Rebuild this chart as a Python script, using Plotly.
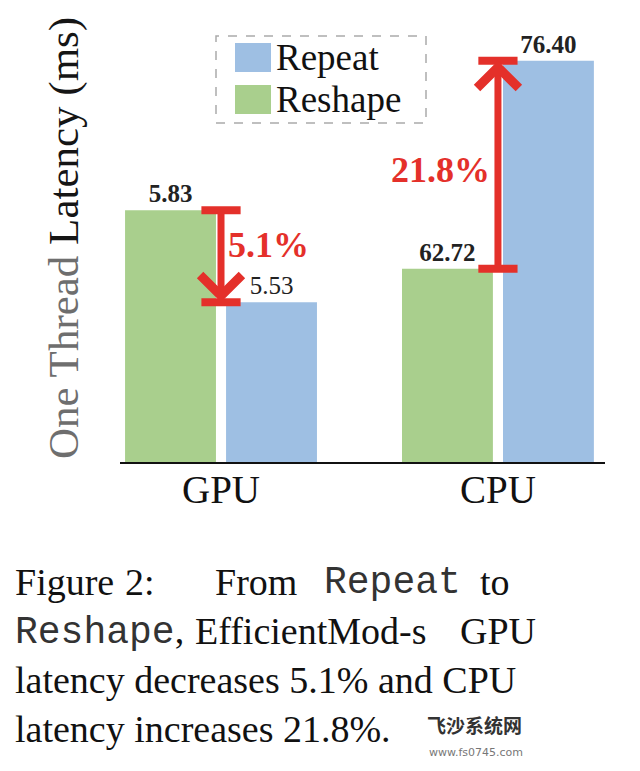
import plotly.graph_objects as go

# ---------------- data ----------------
categories = ["GPU", "CPU"]
repeat_ms = [5.53, 76.40]
reshape_ms = [5.83, 62.72]
change_labels = ["5.1%", "21.8%"]
series_names = ["Repeat", "Reshape"]

# ---------------- style ----------------
W, H = 640, 771
GREEN = "#A9CF8D"
BLUE = "#9EBFE3"
RED = "#E4302A"
SERIF = "Liberation Serif"
MONO = "Liberation Mono"

def fx(p):
    return p / W

def fy(p):
    return 1 - p / H

PLOT_TOP, PLOT_BOTTOM = 20, 462
y_ranges = [[5.01, 5.01 + (PLOT_BOTTOM - PLOT_TOP) / 307.0],
            [50.0, 50.0 + (PLOT_BOTTOM - PLOT_TOP) / 15.2]]
x_domains = [[fx(120), fx(360)], [fx(360), fx(605)]]
x_ranges = [[-0.5, 0.688], [-0.683, 0.530]]
label_bold = [[False, True], [True, True]]  # [repeat, reshape] per category

fig = go.Figure()

for i, cat in enumerate(categories):
    xa = "x" if i == 0 else "x2"
    ya = "y" if i == 0 else "y2"
    for name, vals, col, bold in [("Reshape", reshape_ms, GREEN, label_bold[i][1]),
                                  ("Repeat", repeat_ms, BLUE, label_bold[i][0])]:
        v = vals[i]
        t = f"{v:.2f}"
        if bold:
            t = f"<b>{t}</b>"
        fig.add_trace(go.Bar(
            x=[cat], y=[v], name=name, xaxis=xa, yaxis=ya,
            marker=dict(color=col, line=dict(width=0)),
            text=[t], textposition="outside",
            textfont=dict(family=SERIF, size=25, color="#222"),
            showlegend=False, hoverinfo="skip",
        ))
    fig.add_trace(go.Scatter(
        x=[cat, cat], y=[reshape_ms[i], repeat_ms[i]], xaxis=xa, yaxis=ya,
        mode="markers",
        marker=dict(symbol="line-ew", size=28, color=RED,
                    line=dict(color=RED, width=8)),
        showlegend=False, hoverinfo="skip",
    ))

annotations = []
for i, cat in enumerate(categories):
    xa = "x" if i == 0 else "x2"
    ya = "y" if i == 0 else "y2"
    annotations.append(dict(
        x=0, y=repeat_ms[i], ax=0, ay=reshape_ms[i],
        xref=xa, yref=ya, axref=xa, ayref=ya,
        text="", showarrow=True, arrowhead=4, arrowsize=1.15,
        arrowwidth=7, arrowcolor=RED, standoff=0,
    ))
    mid = (repeat_ms[i] + reshape_ms[i]) / 2
    annotations.append(dict(
        x=0, y=mid, xref=xa, yref=ya, showarrow=False,
        text=f"<b>{change_labels[i]}</b>",
        font=dict(family=SERIF, size=36, color=RED),
        xanchor="left" if i == 0 else "right",
        xshift=5 if i == 0 else -6,
        yshift=11 if i == 0 else -5,
    ))
    annotations.append(dict(
        x=cat, xref=xa, y=fy(490), yref="paper", showarrow=False,
        xanchor="center", yanchor="middle", text=cat,
        font=dict(family=SERIF, size=39, color="#111"),
    ))

# y-axis title
annotations.append(dict(
    x=fx(64), y=fy(238), xref="paper", yref="paper", showarrow=False,
    xanchor="center", yanchor="middle", textangle=-90,
    text='<span style="color:#6e6e6e">One Thread</span> Latency (ms)',
    font=dict(family=SERIF, size=43, color="#151515"),
))

# legend (manual)
shapes = [dict(type="rect", xref="paper", yref="paper",
               x0=fx(216), x1=fx(426), y0=fy(123), y1=fy(36),
               line=dict(color="#AAAAAA", width=1.5, dash="dash"),
               fillcolor="rgba(0,0,0,0)")]
leg_colors = [BLUE, GREEN]
leg_rows = [(43, 72), (85, 114)]
for name, col, (t0, t1) in zip(series_names, leg_colors, leg_rows):
    shapes.append(dict(type="rect", xref="paper", yref="paper",
                       x0=fx(235), x1=fx(271), y0=fy(t1), y1=fy(t0),
                       line=dict(width=0), fillcolor=col))
    annotations.append(dict(
        x=fx(274), y=fy((t0 + t1) / 2), xref="paper", yref="paper",
        showarrow=False, xanchor="left", yanchor="middle",
        text=name, font=dict(family=SERIF, size=37, color="#111"),
    ))

# caption
CAP = 38
def cap(text, x, yc, fam=SERIF, color="#111"):
    annotations.append(dict(
        x=fx(x), y=fy(yc), xref="paper", yref="paper", showarrow=False,
        xanchor="left", yanchor="middle", text=text,
        font=dict(family=fam, size=CAP, color=color),
    ))

cap("Figure", 13, 582)
cap("2:", 123, 582)
cap("From", 213, 582)
cap("Repeat", 322, 582, MONO, "#333")
cap("to", 478, 582)
cap(f'<span style="font-family:{MONO};color:#333">Reshape</span>,', 13, 631)
cap("EfficientMod-s", 193, 631)
cap("GPU", 458, 631)
cap("latency decreases 5.1% and CPU", 13, 680)
cap("latency increases 21.8%.", 13, 729)

# watermark
annotations.append(dict(x=fx(425), y=fy(740), xref="paper", yref="paper",
                        showarrow=False, xanchor="left", text="<b>飞沙系统网</b>",
                        font=dict(family="Noto Sans CJK SC", size=19, color="#333")))
annotations.append(dict(x=fx(427), y=fy(761), xref="paper", yref="paper",
                        showarrow=False, xanchor="left", text="www.fs0745.com",
                        font=dict(family="DejaVu Sans", size=11, color="#777")))

axis_common = dict(type="category", showline=True, linecolor="#111", linewidth=2,
                   ticks="", showticklabels=False, showgrid=False, zeroline=False,
                   fixedrange=True)
yaxis_common = dict(visible=False, showgrid=False, zeroline=False, fixedrange=True,
                    domain=[fy(PLOT_BOTTOM), fy(PLOT_TOP)])

fig.update_layout(
    width=W, height=H,
    margin=dict(l=0, r=0, t=0, b=0),
    paper_bgcolor="white", plot_bgcolor="white",
    barmode="group", bargap=0.0, bargroupgap=0.1,
    showlegend=False,
    xaxis=dict(domain=x_domains[0], range=x_ranges[0], anchor="y", **axis_common),
    xaxis2=dict(domain=x_domains[1], range=x_ranges[1], anchor="y2", **axis_common),
    yaxis=dict(range=y_ranges[0], anchor="x", **yaxis_common),
    yaxis2=dict(range=y_ranges[1], anchor="x2", **yaxis_common),
    annotations=annotations,
    shapes=shapes,
)

fig.write_html("out.html")
